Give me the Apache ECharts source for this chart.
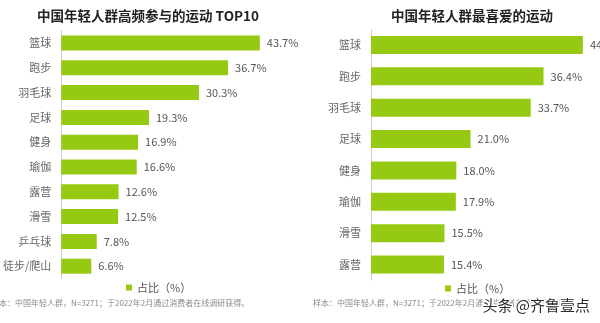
<!DOCTYPE html>
<html><head><meta charset="utf-8">
<script src="https://cdn.jsdelivr.net/npm/echarts@6/dist/echarts.min.js"></script>
<style>html,body{margin:0;padding:0;background:#fff}#c{width:600px;height:323px}</style>
</head><body><div id="c"></div>
<script>
const leftTitle = '中国年轻人群高频参与的运动 TOP10';
const leftCats = ['篮球','跑步','羽毛球','足球','健身','瑜伽','露营','滑雪','乒乓球','徒步/爬山'];
const leftVals = [43.7,36.7,30.3,19.3,16.9,16.6,12.6,12.5,7.8,6.6];
const rightTitle = '中国年轻人群最喜爱的运动';
const rightCats = ['篮球','跑步','羽毛球','足球','健身','瑜伽','滑雪','露营'];
const rightVals = [44.7,36.4,33.7,21.0,18.0,17.9,15.5,15.4];
const seriesName = '占比（%）';
const note = '样本：中国年轻人群，N=3271；于2022年2月通过消费者在线调研获得。';
const watermark = '头条 @齐鲁壹点';

const FONT = '"Noto Sans CJK SC", "Noto Sans", sans-serif';
const GREEN = '#96C912';
const chart = echarts.init(document.getElementById('c'), null, {renderer:'canvas'});
function yAx(idx, cats){
  return {type:'category', gridIndex:idx, data:cats, inverse:true,
    axisLine:{show:true, lineStyle:{color:'#d0d0d0', width:1}}, axisTick:{show:false},
    axisLabel:{color:'#666', fontSize:11, margin:10, fontFamily:FONT}};
}
function xAx(idx){
  return {type:'value', gridIndex:idx, min:0, max:45, show:false};
}
function ser(idx, vals, bw){
  return {type:'bar', name:seriesName, xAxisIndex:idx, yAxisIndex:idx, data:vals, barWidth:bw,
    itemStyle:{color:GREEN}, silent:true,
    label:{show:true, position:'right', distance:7, color:'#555', fontSize:11, fontFamily:FONT,
      formatter:p=>p.value.toFixed(1)+'%'}};
}
chart.setOption({
  animation:false,
  backgroundColor:'#fff',
  textStyle:{fontFamily:FONT},
  title:[
    {text:leftTitle, left:143, top:4, textAlign:'center', textStyle:{fontSize:13.5, fontWeight:'bold', color:'#222', fontFamily:FONT}},
    {text:rightTitle, left:467, top:4, textAlign:'center', textStyle:{fontSize:13.5, fontWeight:'bold', color:'#222', fontFamily:FONT}}
  ],
  grid:[
    {left:61, top:30.6, width:4.55*45, height:248},
    {left:371, top:29.3, width:4.74*45, height:251}
  ],
  xAxis:[xAx(0), xAx(1)],
  yAxis:[yAx(0,leftCats), yAx(1,rightCats)],
  legend:[
    {data:[seriesName], left:121, top:277, icon:'rect', itemWidth:6, itemHeight:6, itemGap:4, selectedMode:false,
      textStyle:{color:'#555', fontSize:11, fontFamily:FONT}},
    {data:[seriesName], left:440, top:278, icon:'rect', itemWidth:6, itemHeight:6, itemGap:4, selectedMode:false,
      textStyle:{color:'#555', fontSize:11, fontFamily:FONT}}
  ],
  series:[ser(0,leftVals,15), ser(1,rightVals,18)],
  graphic:[
    {type:'text', left:-9, top:299, style:{text:note, fill:'#8a8a8a', font:'8px '+FONT}},
    {type:'text', left:313, top:299, style:{text:note, fill:'#8a8a8a', font:'8px '+FONT}},
    {type:'text', left:481, top:296, z:100, style:{text:watermark, fill:'#2a2a2a', font:'15px '+FONT, stroke:'#fff', lineWidth:3}}
  ]
});
</script></body></html>
